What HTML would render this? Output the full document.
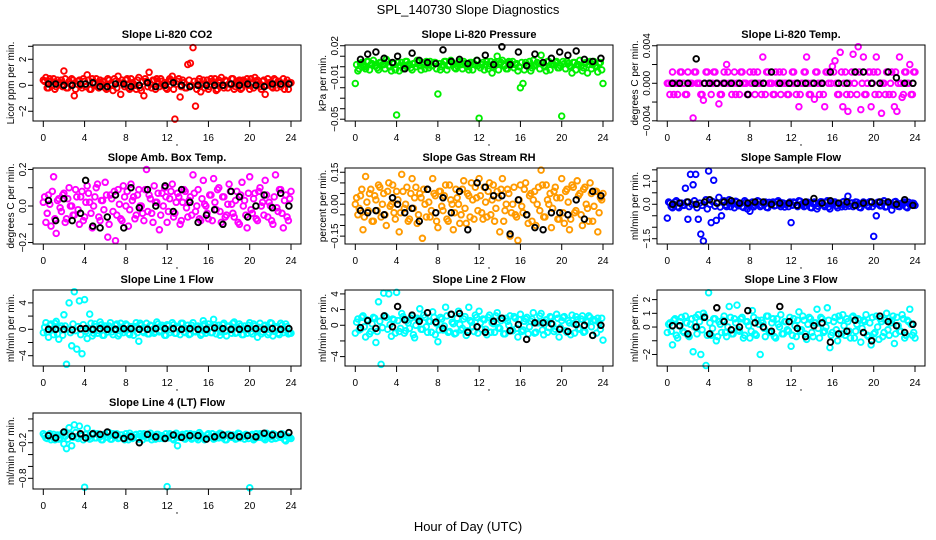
<!DOCTYPE html>
<html><head><meta charset="utf-8">
<style>
html,body{margin:0;padding:0;background:#fff;}
svg{display:block;font-family:"Liberation Sans",sans-serif;}
</style></head>
<body>
<svg id="chart" width="936" height="540" viewBox="0 0 936 540" xmlns="http://www.w3.org/2000/svg">
<rect x="0" y="0" width="936" height="540" fill="#fff"/>
<text x="468" y="14" font-size="13" text-anchor="middle">SPL_140730  Slope Diagnostics</text>
<text x="468" y="531" font-size="13" text-anchor="middle">Hour of Day (UTC)</text>
</svg>
<script>
const xTicks = [0,4,8,12,16,20,24];
const blackHours = [0.5,1.2,2.0,2.8,3.6,4.1,4.8,5.5,6.2,7.0,7.8,8.5,9.3,10.1,10.9,11.8,12.6,13.4,14.2,15.0,15.8,16.6,17.4,18.2,19.0,19.8,20.6,21.4,22.2,23.0,23.8];

const co2Vals = [0.4,0.6,-0.2,0.3,0.5,-0.1,0.2,0.4,1.1,-0.2,0.3,0.5,-0.8,0.1,0.4,-0.2,
0.3,0.8,-0.3,0.5,0.2,-0.1,0.4,0.3,-0.2,0.5,0.1,-0.4,0.3,0.7,-0.7,0.2,
0.4,-0.2,0.5,0.1,-0.3,0.6,-0.4,-0.8,0.3,1.0,-0.2,0.4,0.5,-0.1,0.3,0.2,
-0.3,0.5,0.7,-2.6,0.3,-0.9,0.4,-0.2,1.6,1.7,2.9,-1.6,0.3,-0.5,0.4,0.1,
-0.3,0.5,0.2,-0.4,0.4,0.6,-0.2,0.3,0.1,0.5,-0.3,0.2,0.4,-0.2,0.3,0.5,
-0.3,0.2,0.6,0.4,-0.1,0.3,-0.7,0.5,0.2,-0.2,0.4,0.3,-0.1,0.5,0.2,-0.3,0.2];
const co2Band = [0.3,-0.2,0.5,0.0,-0.3,0.4,0.2,-0.1,0.5,-0.2,0.1,0.4,-0.3,0.3,0.0,0.5,
-0.1,0.4,-0.3,0.2,0.5,-0.2,0.1,0.3,-0.3,0.4,0.0,0.5,-0.2,0.2,0.4,-0.1,
0.5,-0.3,0.2,0.0,0.4,-0.2,0.3,0.5,-0.1,0.1,0.4,-0.3,0.2,0.5,0.0,-0.2,
0.3,0.4,-0.3,0.1,0.5,-0.1,0.2,-0.2,0.4,0.0,0.3,-0.3,0.5,0.1,-0.2,0.4,
-0.1,0.3,0.5,-0.3,0.2,0.0,0.4,-0.2,0.1,0.5,-0.1,0.3,-0.3,0.4,0.2,0.0,
0.5,-0.2,0.3,0.1,-0.3,0.4,0.0,0.2,-0.1,0.5,-0.2,0.3,0.1,-0.3,0.4,0.2];
const co2Black = [0.1,0.1,0,0,0.1,0.1,0.2,-0.1,-0.1,0.1,0.1,-0.1,0,0.2,-0.1,0,0.2,0,-0.1,0,0,0,0,0.1,0,0.1,0,-0.1,0.1,0.1,0.1];

const presVals = [-0.016,-0.004,0.003,0.001,-0.002,0.005,0.002,0.006,0.001,-0.003,0.004,0.002,0.007,0.001,-0.004,0.003,
-0.046,-0.004,0.004,0.001,0.005,0.002,-0.003,0.003,0.006,0.001,0.004,-0.002,0.003,0.005,0.001,0.004,
-0.026,-0.003,0.002,0.005,0.001,0.006,0.003,-0.002,0.004,0.002,0.005,0.001,-0.003,0.004,0.003,0.006,
-0.049,0.002,-0.003,0.005,0.001,-0.006,0.004,0.010,0.003,0.006,0.001,-0.002,0.004,0.005,0.002,-0.004,
-0.020,-0.016,0.004,0.001,-0.004,0.006,0.002,0.003,0.011,0.001,-0.004,0.005,0.003,0.002,0.005,-0.001,
-0.047,0.003,0.005,0.001,-0.006,0.004,0.002,0.006,-0.004,0.003,-0.006,0.005,0.002,0.001,-0.005,0.004,-0.016];
const presBand = [0.002,-0.002,0.004,0.000,0.005,-0.003,0.003,0.001,-0.001,0.004,0.002,-0.002,0.005,0.000,0.003,-0.003,
0.004,0.001,-0.002,0.005,0.002,-0.001,0.003,0.000,0.004,-0.003,0.002,0.005,-0.001,0.001,0.004,-0.002,
0.003,0.000,0.005,-0.003,0.002,0.004,-0.001,0.001,0.005,-0.002,0.003,0.000,0.004,-0.003,0.002,0.001,
-0.001,0.004,0.002,-0.002,0.005,0.000,0.003,-0.003,0.004,0.001,-0.002,0.005,0.002,-0.001,0.003,0.000,
0.004,-0.003,0.002,0.005,-0.001,0.001,0.004,-0.002,0.003,0.000,0.005,-0.003,0.002,0.004,-0.001,0.001,
0.005,-0.002,0.003,0.000,0.004,-0.003,0.002,0.001,-0.001,0.004,0.002,-0.002,0.005,0.000,0.003,-0.003];
const presBlack = [0.007,0.012,0.014,0.008,0.004,0.010,-0.002,0.013,0.006,0.004,0.003,0.016,0.005,0.007,0.003,0.006,0.011,0.002,0.019,0.002,0.014,0.001,0.012,0.004,0.008,0.014,0.011,0.015,0.007,0.005,0.008];

const tempVals = [0,-0.0012,0.0012,0,-0.0012,0.0012,0,-0.0012,0.0012,0,-0.0037,0.0012,0,-0.0012,-0.0018,0.0012,
0,-0.0012,0.0012,0,-0.0022,-0.0012,0.0012,0.0020,0,-0.0012,0.0012,0,-0.0012,0.0012,0,-0.0012,
0.0012,0,-0.0012,0.0012,0,0.0028,-0.0012,0.0012,0,-0.0012,0.0012,0,-0.0012,0.0012,0,-0.0012,
0,0.0012,-0.0012,-0.0025,0,0.0012,0.0028,-0.0012,0,-0.0017,0.0012,-0.0012,0,-0.0025,0.0012,0.0012,
0.0018,0.0024,-0.0012,0.0033,-0.0025,0.0012,-0.0030,-0.0012,0.0031,0.0012,0.0039,-0.0028,0.0028,-0.0012,0.0012,-0.0025,
0.0012,0.0028,-0.0012,-0.0032,0,0.0012,-0.0012,0.0012,-0.0025,-0.0030,0.0028,-0.0015,0.0012,0,0.0020,-0.0012,0.0012];
const tempBand = [0,0,-0.0012,0,0,0.0012,0,-0.0012,0,0,0.0012,0,0,-0.0012,0,0.0012,
0,0,0.0012,0,-0.0012,0,0,0.0012,0,0,-0.0012,0,0.0012,0,0,-0.0012,
0,0.0012,0,0,-0.0012,0,0.0012,0,0,-0.0012,0,0.0012,0,0,-0.0012,0,
0.0012,0,0,-0.0012,0,0.0012,0,-0.0012,0,0.0012,0,0,-0.0012,0.0012,0,0,
0.0012,0,-0.0012,0.0012,0,-0.0012,0,0.0012,0,-0.0012,0.0012,0,-0.0012,0,0.0012,0,
-0.0012,0.0012,0,0,-0.0012,0.0012,0,-0.0012,0.0012,0,0,-0.0012,0.0012,0,-0.0012,0.0012];
const tempBlack = [0,0,0,0.0026,0,0,0,0,0,0,-0.0012,0,0,0.0012,0,0,0,0,0,0,0.0012,0,0,0.0012,0.0012,0,0,0.0012,0.0006,0,0];

const ambVals = [0.02,-0.09,0.06,-0.11,0.16,-0.15,0.04,-0.03,0.07,-0.07,0.1,0.0,-0.05,0.05,-0.1,0.08,
-0.06,0.11,0.02,-0.12,0.05,0.12,-0.08,0.03,0.13,-0.17,0.06,-0.03,-0.19,0.09,-0.07,0.11,
0.0,-0.11,0.12,0.05,-0.05,0.09,0.0,-0.08,0.2,0.06,-0.04,0.11,0.02,-0.13,0.07,0.1,
-0.09,0.04,0.12,-0.04,0.07,-0.1,0.02,0.08,-0.06,0.05,0.17,-0.03,0.09,-0.08,0.14,0.0,
-0.07,0.06,0.15,-0.02,0.1,-0.09,0.05,-0.05,0.12,0.01,-0.06,0.08,-0.1,0.13,0.03,-0.12,
0.16,-0.04,0.07,-0.08,0.1,0.02,0.14,-0.06,0.0,-0.1,0.17,-0.03,0.09,-0.12,0.06,-0.08,0.08];
const ambBand = [0.05,-0.04,0.01,0.08,-0.07,0.03,-0.01,0.06,-0.09,0.04,0.0,-0.05,0.09,-0.02,0.05,-0.08,
0.02,0.07,-0.04,0.0,0.1,-0.06,0.03,-0.02,0.06,-0.1,0.04,0.08,-0.05,0.01,-0.08,0.05,
0.08,-0.02,0.03,-0.07,0.06,0.0,-0.04,0.09,-0.03,0.04,-0.09,0.02,0.07,-0.05,0.0,0.05,
-0.03,0.08,-0.06,0.02,0.05,-0.08,0.09,-0.01,0.03,-0.05,0.07,0.0,-0.07,0.04,0.01,-0.04,
0.06,-0.08,0.02,0.09,-0.03,0.05,-0.06,0.01,0.08,-0.04,0.03,-0.09,0.06,0.0,-0.05,0.07,
-0.02,0.04,-0.07,0.08,0.0,-0.05,0.06,0.02,-0.08,0.05,-0.01,0.09,-0.04,0.03,-0.06,0.04];
const ambBlack = [0.03,-0.08,0.04,-0.08,-0.04,0.14,-0.11,-0.12,-0.06,0.06,-0.12,0.1,-0.01,0.09,0.0,0.11,-0.03,0.09,0.02,-0.09,-0.05,-0.02,-0.1,0.08,0.05,-0.06,0.0,0.06,-0.01,0.07,0.0];

const rhVals = [0.0,-0.05,0.04,-0.12,0.13,-0.03,0.07,-0.08,0.02,0.09,-0.06,0.05,-0.1,0.1,0.0,-0.04,
0.06,-0.13,0.14,-0.02,0.08,-0.07,0.12,0.03,-0.09,0.05,-0.16,0.0,0.07,-0.06,0.12,0.04,
-0.11,0.06,-0.03,0.09,-0.08,0.02,-0.12,0.07,0.0,-0.05,0.11,-0.09,0.04,0.1,-0.07,0.03,
0.12,-0.04,0.08,-0.06,0.1,0.02,-0.08,0.06,-0.13,0.12,-0.03,0.07,-0.15,0.0,-0.05,-0.17,
0.09,-0.04,0.1,-0.09,0.05,0.02,-0.1,0.08,0.16,-0.06,0.09,0.0,-0.11,0.06,0.03,-0.07,
0.12,-0.09,0.07,-0.12,0.09,-0.04,0.11,0.05,-0.1,0.08,-0.02,0.1,-0.08,0.06,-0.13,0.03,0.05];
const rhBand = [0.03,-0.02,0.07,-0.06,0.01,0.05,-0.08,0.04,-0.03,0.08,0.0,-0.05,0.06,-0.01,0.09,-0.07,
0.02,-0.04,0.06,0.0,-0.08,0.05,-0.02,0.08,-0.05,0.03,0.07,-0.06,0.01,-0.03,0.05,-0.08,
0.06,-0.01,0.04,-0.07,0.09,0.0,-0.04,0.03,-0.09,0.07,-0.02,0.05,-0.06,0.02,0.08,-0.03,
0.04,-0.07,0.01,0.06,-0.05,0.09,-0.02,0.03,0.07,-0.08,0.0,0.05,-0.04,0.08,-0.06,0.02,
-0.01,0.07,-0.05,0.04,-0.08,0.06,0.0,-0.03,0.09,-0.06,0.02,0.05,-0.02,0.08,-0.07,0.03,
-0.04,0.06,0.01,-0.07,0.08,-0.03,0.04,-0.05,0.07,0.0,-0.08,0.05,-0.01,0.06,-0.04,0.02];
const rhBlack = [-0.03,-0.04,-0.03,-0.05,0.03,0.0,-0.04,-0.02,-0.08,0.07,-0.04,0.03,-0.04,0.06,-0.12,0.1,0.08,0.04,0.04,-0.14,0.02,-0.05,-0.11,-0.12,-0.04,-0.04,-0.05,0.02,-0.07,0.06,0.04];

const sampleVals = [-0.6,0.05,-0.15,0.1,-0.1,0.05,-0.05,0.7,-0.65,1.3,0.85,1.3,-0.65,-1.3,-1.6,0.2,
1.45,-0.8,1.05,-0.7,0.3,-0.5,0.15,-0.1,0.2,0.05,-0.15,0.1,0.0,-0.1,0.15,-0.2,
-0.3,0.1,-0.05,0.15,-0.1,0.05,0.1,-0.15,0.0,0.1,-0.05,0.15,-0.1,0.05,0.0,-0.1,
-0.8,0.1,-0.05,0.15,0.0,-0.1,0.1,0.05,-0.15,0.1,-0.2,0.05,0.1,-0.1,0.15,-0.2,
0.05,0.1,-0.15,0.0,0.1,-0.1,0.35,0.05,-0.1,0.1,0.0,-0.15,0.1,0.05,-0.1,0.1,
-1.4,-0.5,0.1,-0.05,0.15,-0.1,0.05,-0.25,0.1,0.0,-0.1,0.05,0.1,-0.15,0.0,0.05,-0.05];
const sampleBand = [0.1,-0.1,0.0,0.15,-0.15,0.05,-0.05,0.1,-0.1,0.0,0.15,-0.15,0.05,-0.05,0.1,-0.2,
0.0,0.12,-0.08,0.05,-0.12,0.1,-0.03,0.08,-0.1,0.02,0.13,-0.06,0.04,-0.14,0.09,-0.02,
0.07,-0.11,0.03,0.12,-0.05,0.0,-0.13,0.08,0.04,-0.07,0.11,-0.02,0.06,-0.12,0.02,0.1,
-0.04,0.07,-0.1,0.13,0.0,-0.06,0.09,-0.14,0.03,0.05,-0.09,0.11,-0.03,0.08,-0.12,0.01,
0.1,-0.06,0.04,-0.11,0.12,0.0,-0.08,0.06,-0.02,0.09,-0.13,0.03,0.07,-0.05,0.11,-0.1,
0.02,0.08,-0.07,0.05,-0.12,0.1,0.0,-0.04,0.12,-0.09,0.03,0.06,-0.11,0.09,-0.02,0.04];
const sampleBlack = [0.0,0.05,0.1,0.0,0.1,0.2,0.05,0.1,0.15,0.05,0.05,0.1,0.1,0.0,0.05,0.05,-0.05,0.1,0.25,0.05,0.15,0.05,0.1,-0.05,0.05,0.1,0.1,0.1,0.0,0.2,-0.05];

const line1Vals = [-0.5,1.0,-1.2,0.8,-0.8,1.2,-1.5,0.5,2.2,-5.3,4.0,-2.5,5.7,-3.0,4.3,-3.7,
4.5,-1.4,2.3,-1.0,0.8,-0.6,1.1,-0.9,0.5,-0.4,1.0,-0.8,0.6,-1.0,0.9,-0.5,
0.8,-0.6,0.4,-0.9,1.0,-1.8,0.6,-0.5,0.9,-0.7,0.5,-0.6,1.1,-0.4,0.6,-0.9,
0.7,-0.5,1.0,-0.6,0.4,-0.8,0.9,-0.5,0.6,-0.7,1.0,-0.4,0.5,-0.9,1.3,-0.6,
0.8,-0.5,1.5,-0.7,0.6,-0.4,0.9,-1.0,0.5,-0.6,1.1,-0.5,0.8,-0.8,0.5,-0.6,
1.0,-0.7,0.5,-1.2,0.9,-0.4,0.6,-0.8,1.0,-1.0,0.4,-0.6,0.9,-0.5,0.8,-0.7,-0.6];
const line1Band = [0.3,-0.4,0.6,-0.1,0.9,-0.7,0.2,-0.9,0.5,0.0,-0.5,0.8,-0.2,0.4,-0.8,0.7,
-0.3,0.1,0.9,-0.6,0.4,-0.2,0.7,-0.9,0.2,0.5,-0.4,0.0,0.8,-0.7,0.3,-0.1,
0.6,-0.8,0.1,0.4,-0.5,0.9,-0.3,0.2,-0.7,0.6,0.0,-0.4,0.8,-0.2,0.3,-0.9,
0.5,-0.1,0.7,-0.6,0.2,0.9,-0.4,0.1,-0.8,0.6,-0.3,0.4,0.0,-0.7,0.8,-0.2,
0.3,-0.5,0.6,0.1,-0.9,0.7,-0.3,0.4,-0.1,0.9,-0.6,0.2,0.5,-0.8,0.0,0.6,
-0.4,0.8,-0.2,0.3,-0.7,0.5,0.1,-0.5,0.9,-0.3,0.2,-0.8,0.6,-0.1,0.4,-0.6];
const line1Black = [0,0,0,-0.1,0.1,0.1,0,0.1,0,0,0.1,0.1,0,0,0.1,0.1,0.1,0,0.1,0,0,0.2,0.1,0,0,0.1,0.1,0,0.1,0,0.1];

const line2Vals = [-1.0,0.8,-0.5,1.2,-1.5,0.6,-0.8,1.0,-2.2,3.0,-5.0,4.1,1.0,4.0,-1.4,0.7,
4.2,-0.8,1.5,-1.0,0.6,-0.4,1.2,-1.6,0.9,2.1,-0.5,1.0,-0.9,0.5,1.7,-1.2,
-2.1,1.0,-0.6,2.3,-0.9,1.4,0.2,-1.0,1.8,-0.6,0.8,-1.3,2.3,0.4,-0.8,1.0,
1.8,-0.5,0.7,-1.2,1.3,0.3,-0.9,1.6,-0.4,0.9,-1.1,0.5,1.2,-0.7,0.9,-1.5,
1.4,-0.6,0.8,-1.1,0.5,1.6,-0.9,0.3,1.5,-1.2,0.7,-0.3,1.0,-0.8,1.4,-1.5,
0.6,1.1,-0.9,0.3,1.3,-1.0,0.7,-0.5,1.2,-0.8,0.4,1.0,-1.3,0.6,0.9,-0.5,-1.9];
const line2Band = [0.4,-0.6,1.0,-0.2,0.7,-1.1,0.2,0.9,-0.8,0.5,-0.3,1.2,-0.5,0.1,0.8,-1.0,
0.6,-0.4,1.1,-0.7,0.3,0.9,-1.2,0.0,0.7,-0.5,1.3,-0.2,0.5,-0.9,1.0,0.2,
-0.6,0.8,-0.1,1.2,-0.8,0.4,-1.1,0.9,0.1,-0.4,1.1,-0.7,0.6,-0.2,1.3,-1.0,
0.3,0.8,-0.5,1.0,-0.9,0.2,1.2,-0.3,0.6,-1.1,0.9,0.0,-0.6,1.1,-0.4,0.7,
-0.8,0.5,1.0,-0.2,0.8,-1.0,0.3,1.2,-0.6,0.4,-0.9,1.1,0.1,-0.5,0.9,-0.3,
1.0,-0.7,0.6,-1.2,0.2,1.1,-0.4,0.8,-0.9,0.5,1.2,-0.2,0.7,-1.0,0.3,0.9];
const line2Black = [-0.3,0.6,-0.4,1.2,-0.2,2.4,0.7,1.3,0.5,1.6,0.4,-0.4,1.4,1.5,-0.9,-0.2,-0.9,0.5,0.9,-0.7,0.1,-1.8,0.3,0.3,0.2,-0.5,-0.8,0.1,0.0,-1.3,0.0];

const line3Vals = [-0.4,0.3,-1.3,0.6,-0.8,0.4,-0.3,0.8,-0.6,0.2,-1.8,0.7,0.9,-2.0,1.0,-2.8,
2.5,-0.6,0.6,-1.0,0.4,-0.4,0.8,-0.7,1.5,-0.5,0.6,1.6,-0.3,0.7,-0.6,0.4,
-0.8,1.2,-0.5,0.5,-2.0,0.3,-0.7,0.8,-0.4,0.6,-0.8,0.2,0.9,-0.5,0.4,-0.3,
-1.4,0.6,-0.7,1.1,-0.2,0.5,-0.9,0.7,-0.4,0.3,1.3,-0.8,0.6,-0.3,1.4,-1.5,
-0.4,0.7,-1.0,0.5,0.9,-0.6,0.4,-0.8,0.8,-0.3,0.6,-1.1,0.5,0.9,-0.7,-1.3,
-0.5,0.8,-0.9,0.4,-0.4,1.0,-0.6,0.5,-1.2,0.7,-0.3,0.9,-0.8,0.5,1.3,-0.6,-0.8];
const line3Band = [0.2,-0.3,0.5,-0.6,0.1,0.7,-0.4,0.3,-0.7,0.6,0.0,-0.5,0.4,-0.2,0.8,-0.6,
0.3,-0.1,0.6,-0.7,0.2,0.5,-0.4,0.0,0.7,-0.5,0.3,-0.2,0.6,-0.8,0.4,0.1,
-0.3,0.7,-0.6,0.2,0.5,-0.1,0.8,-0.4,0.3,-0.7,0.6,0.0,-0.5,0.4,-0.2,0.7,
-0.6,0.1,0.5,-0.3,0.8,-0.5,0.2,0.6,-0.7,0.3,-0.1,0.7,-0.4,0.0,0.5,-0.6,
0.4,-0.2,0.8,-0.5,0.1,0.6,-0.3,0.7,-0.8,0.2,0.5,-0.1,0.4,-0.6,0.3,0.7,
-0.4,0.0,0.6,-0.7,0.5,-0.2,0.3,0.8,-0.5,0.1,-0.3,0.6,-0.6,0.4,0.2,-0.4];
const line3Black = [0.1,0.1,-0.5,0,0.7,-0.5,1.4,0.4,-0.2,0,1.2,0.3,0,-0.3,1.5,0.4,-0.1,-0.7,0.1,0.3,-1.1,-0.5,-0.3,0.5,-0.4,-1.0,0.8,0.4,0.1,-0.4,0.2];

const line4Vals = [-0.05,-0.12,-0.08,-0.15,-0.06,-0.1,-0.14,-0.07,-0.22,-0.3,0.05,-0.25,0.1,-0.1,0.08,-0.08,
-0.95,0.04,-0.14,-0.07,-0.12,-0.05,-0.1,-0.15,-0.06,-0.11,-0.14,-0.05,-0.09,-0.13,-0.07,-0.12,
-0.05,-0.15,-0.08,-0.11,-0.06,-0.14,-0.09,-0.05,-0.12,-0.07,-0.15,-0.1,-0.06,-0.13,-0.08,-0.11,
-0.94,-0.05,-0.13,-0.07,-0.25,-0.1,-0.06,-0.14,-0.09,-0.05,-0.12,-0.08,-0.15,-0.06,-0.11,-0.13,
-0.05,-0.1,-0.14,-0.07,-0.12,-0.05,-0.09,-0.15,-0.06,-0.11,-0.08,-0.13,-0.05,-0.1,-0.14,-0.07,
-0.96,-0.06,-0.13,-0.09,-0.05,-0.12,-0.15,-0.07,-0.1,-0.05,-0.13,-0.08,-0.11,-0.06,-0.17,-0.1,-0.13];
const line4Band = [-0.08,-0.13,-0.05,-0.1,-0.15,-0.07,-0.12,-0.04,-0.09,-0.14,-0.06,-0.11,-0.03,-0.13,-0.08,-0.15,
-0.06,-0.1,-0.13,-0.04,-0.12,-0.08,-0.15,-0.06,-0.1,-0.03,-0.14,-0.09,-0.05,-0.12,-0.07,-0.15,
-0.1,-0.04,-0.13,-0.07,-0.11,-0.05,-0.15,-0.08,-0.12,-0.04,-0.1,-0.14,-0.06,-0.09,-0.13,-0.05,
-0.12,-0.08,-0.15,-0.04,-0.11,-0.07,-0.13,-0.05,-0.1,-0.14,-0.06,-0.12,-0.03,-0.09,-0.15,-0.07,
-0.11,-0.05,-0.13,-0.08,-0.04,-0.12,-0.15,-0.06,-0.1,-0.07,-0.14,-0.04,-0.12,-0.09,-0.06,-0.13,
-0.08,-0.15,-0.05,-0.11,-0.07,-0.13,-0.04,-0.1,-0.14,-0.06,-0.12,-0.08,-0.05,-0.15,-0.09,-0.11];
const line4Black = [-0.08,-0.12,-0.02,-0.09,-0.05,-0.12,-0.05,-0.06,-0.02,-0.07,-0.13,-0.1,-0.2,-0.06,-0.1,-0.13,-0.07,-0.11,-0.08,-0.08,-0.14,-0.1,-0.07,-0.08,-0.1,-0.08,-0.1,-0.04,-0.07,-0.06,-0.03];

const co2Ticks = [-2,-1,0,1,2,3];            const co2Labels = ["-2","","0","","2",""];
const presTicks = [0.02,0.01,0,-0.01,-0.02,-0.03,-0.04,-0.05]; const presLabels = ["0.02","","","-0.01","","","","-0.05"];
const tempTicks = [0.004,0.002,0,-0.002,-0.004]; const tempLabels = ["0.004","","0.000","","-0.004"];
const ambTicks = [0.2,0.1,0,-0.1,-0.2];      const ambLabels = ["0.2","","0.0","","-0.2"];
const rhTicks = [0.15,0.1,0.05,0,-0.05,-0.1,-0.15]; const rhLabels = ["0.15","","","0.00","","","-0.15"];
const sampleTicks = [1.5,1.0,0.5,0,-0.5,-1.0,-1.5]; const sampleLabels = ["","1.0","","0.0","","","-1.5"];
const line1Ticks = [4,2,0,-2,-4];            const line1Labels = ["4","","0","","-4"];
const line2Ticks = [4,2,0,-2,-4];            const line2Labels = ["4","2","0","","-4"];
const line3Ticks = [2,1,0,-1,-2];            const line3Labels = ["2","1","0","","-2"];
const line4Ticks = [0.2,0,-0.2,-0.4,-0.6,-0.8]; const line4Labels = ["","","-0.2","","","-0.8"];

const panels = [
 {name:"co2",title:"Slope Li-820 CO2",ylab:"Licor ppm per min.",col:0,row:0,dom:[-2.75,3.1],vals:co2Vals,band:co2Band,black:co2Black,ticks:co2Ticks,labels:co2Labels,color:"#ff0000"},
 {name:"pressure",title:"Slope Li-820 Pressure",ylab:"kPa per min.",col:1,row:0,dom:[-0.0517,0.0207],vals:presVals,band:presBand,black:presBlack,ticks:presTicks,labels:presLabels,color:"#00ee00"},
 {name:"li820-temp",title:"Slope Li-820 Temp.",ylab:"degrees C per min.",col:2,row:0,dom:[-0.00402,0.00408],vals:tempVals,band:tempBand,black:tempBlack,ticks:tempTicks,labels:tempLabels,color:"#ff00ff"},
 {name:"amb-box-temp",title:"Slope Amb. Box Temp.",ylab:"degrees C per min.",col:0,row:1,dom:[-0.208,0.208],vals:ambVals,band:ambBand,black:ambBlack,ticks:ambTicks,labels:ambLabels,color:"#ff00ff"},
 {name:"gas-stream-rh",title:"Slope Gas Stream RH",ylab:"percent per min.",col:1,row:1,dom:[-0.187,0.170],vals:rhVals,band:rhBand,black:rhBlack,ticks:rhTicks,labels:rhLabels,color:"#ff9a00"},
 {name:"sample-flow",title:"Slope Sample Flow",ylab:"ml/min per min.",col:2,row:1,dom:[-1.73,1.58],vals:sampleVals,band:sampleBand,black:sampleBlack,ticks:sampleTicks,labels:sampleLabels,color:"#0000ff"},
 {name:"line1-flow",title:"Slope Line 1 Flow",ylab:"ml/min per min.",col:0,row:2,dom:[-5.56,5.95],vals:line1Vals,band:line1Band,black:line1Black,ticks:line1Ticks,labels:line1Labels,color:"#00ffff"},
 {name:"line2-flow",title:"Slope Line 2 Flow",ylab:"ml/min per min.",col:1,row:2,dom:[-5.2,4.5],vals:line2Vals,band:line2Band,black:line2Black,ticks:line2Ticks,labels:line2Labels,color:"#00ffff"},
 {name:"line3-flow",title:"Slope Line 3 Flow",ylab:"ml/min per min.",col:2,row:2,dom:[-2.84,2.7],vals:line3Vals,band:line3Band,black:line3Black,ticks:line3Ticks,labels:line3Labels,color:"#00ffff"},
 {name:"line4-flow",title:"Slope Line 4 (LT) Flow",ylab:"ml/min per min.",col:0,row:3,dom:[-0.98,0.30],vals:line4Vals,band:line4Band,black:line4Black,ticks:line4Ticks,labels:line4Labels,color:"#00ffff"}
];

const NS = "http://www.w3.org/2000/svg";
const svg = document.getElementById("chart");
function mk(tag, attrs, parent){
  const e = document.createElementNS(NS, tag);
  for (const k in attrs) e.setAttribute(k, attrs[k]);
  (parent||svg).appendChild(e);
  return e;
}
const rowTops = [45,168,290,413];
const BOXH = 76;
panels.forEach(p => {
  const left = 33 + p.col*312, right = left + 268;
  const top = rowTops[p.row], bottom = top + BOXH;
  const xs = h => left + 10.3 + h * (247.7/24);
  const ys = v => bottom - (v - p.dom[0]) / (p.dom[1]-p.dom[0]) * BOXH;
  const g = mk("g", {});
  
  
  const t = mk("text", {x:(left+right)/2, y:top-7, "font-size":"11", "font-weight":"bold", "text-anchor":"middle"}, g);
  t.textContent = p.title;
  
  
  const yl = mk("text", {transform:`translate(${left-19},${(top+bottom)/2}) rotate(-90)`, "font-size":"10", "text-anchor":"middle"}, g);
  yl.textContent = p.ylab;
  
  
  const pts = mk("g", {fill:"none", stroke:p.color, "stroke-width":"1.9"}, g);
  
  
  p.vals.forEach((v,i) => {
    const c = mk("circle", {cx:xs(i*24/(p.vals.length-1)).toFixed(1), cy:ys(v).toFixed(1), r:"2.8"}, pts);
    
    
  });
  p.band.forEach((v,i) => {
    const c = mk("circle", {cx:xs(0.125 + i*0.25).toFixed(1), cy:ys(v).toFixed(1), r:"2.8"}, pts);
    
    
  });
  const bpts = mk("g", {fill:"none", stroke:"#000", "stroke-width":"1.9"}, g);
  
  
  p.black.forEach((v,i) => {
    const c = mk("circle", {cx:xs(blackHours[i]).toFixed(1), cy:ys(v).toFixed(1), r:"2.8"}, bpts);
    
    
  });
  const box = mk("rect", {x:left, y:top, width:right-left, height:BOXH, fill:"none", stroke:"#000", "stroke-width":"1"}, g);
  
  
  const xa = mk("g", {}, g);
  
  
  xTicks.forEach(h => {
    mk("line", {x1:xs(h), x2:xs(h), y1:bottom, y2:bottom+6, stroke:"#000"}, xa);
    const tl = mk("text", {x:xs(h), y:bottom+20, "font-size":"10", "text-anchor":"middle"}, xa);
    tl.textContent = h;
    
    
  });
  mk("circle", {cx:left+144, cy:bottom+24, r:"0.7", fill:"#000"}, xa);
  const ya = mk("g", {}, g);
  
  
  p.ticks.forEach((v,i) => {
    const y = ys(v);
    if (y < top-1 || y > bottom+1) return;
    mk("line", {x1:left-5, x2:left, y1:y, y2:y, stroke:"#000"}, ya);
    if (p.labels[i]) {
      const tl = mk("text", {transform:`translate(${left-7},${y}) rotate(-90)`, "font-size":"10", "text-anchor":"middle"}, ya);
      tl.textContent = p.labels[i].replace("-", "\u2212");
      
      
    }
  });
});
</script>
</body></html>
